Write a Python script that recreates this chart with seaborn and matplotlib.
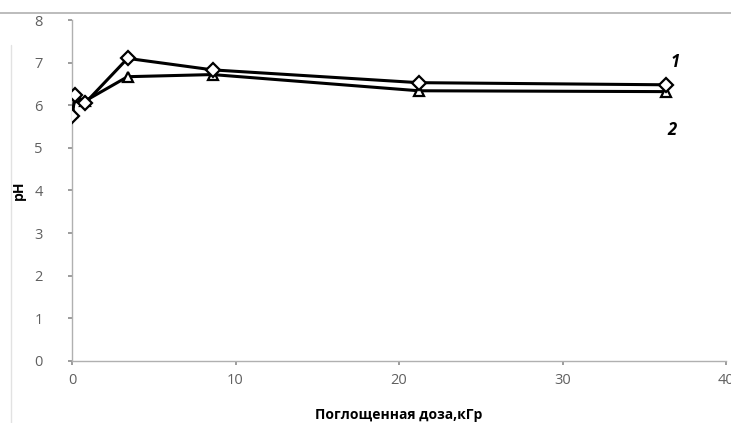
import matplotlib
matplotlib.use("Agg")
import matplotlib.pyplot as plt
import seaborn as sns
import pandas as pd

dose_1 = [0.0, 0.2, 0.8, 3.4, 8.6, 21.2, 36.3]
ph_1 = [5.75, 6.25, 6.05, 7.1, 6.83, 6.53, 6.48]
dose_2 = [0.0, 0.2, 0.8, 3.4, 8.6, 21.2, 36.3]
ph_2 = [5.85, 6.2, 6.1, 6.67, 6.72, 6.34, 6.32]
x_ticks = [0, 10, 20, 30, 40]
y_ticks = [0, 1, 2, 3, 4, 5, 6, 7, 8]
series_labels = ["1", "2"]

sns.set_theme(style="white")
plt.rcParams["font.family"] = ["Open Sans", "DejaVu Sans"]

fig = plt.figure(figsize=(7.31, 4.23), dpi=100)
ax = fig.add_axes([0.0985, 0.1466, 0.8947, 0.8061])

df1 = pd.DataFrame({"dose": dose_1, "ph": ph_1})
df2 = pd.DataFrame({"dose": dose_2, "ph": ph_2})

sns.lineplot(data=df1, x="dose", y="ph", ax=ax, sort=False, color="black",
             linewidth=2.2, marker="D", markersize=7, markerfacecolor="white",
             markeredgecolor="black", markeredgewidth=1.6, zorder=3)
sns.lineplot(data=df2, x="dose", y="ph", ax=ax, sort=False, color="black",
             linewidth=2.2, marker="^", markersize=7, markerfacecolor="white",
             markeredgecolor="black", markeredgewidth=1.6, zorder=2)

ax.set_xlim(0, 40)
ax.set_ylim(0, 8)
ax.set_xticks(x_ticks)
ax.set_yticks(y_ticks)
ax.tick_params(axis="both", colors="#909090", labelsize=10.5, length=3,
               direction="out", left=True, bottom=True, labelcolor="#606060")
ax.yaxis.set_tick_params(pad=18)
ax.xaxis.set_tick_params(pad=6)
for s in ["top", "right"]:
    ax.spines[s].set_visible(False)
for s in ["left", "bottom"]:
    ax.spines[s].set_color("#b0b0b0")
    ax.spines[s].set_linewidth(1.0)

ax.set_xlabel("Поглощенная доза,кГр", fontsize=10, fontweight="bold",
              color="black", labelpad=14)
ax.set_ylabel("pH", fontsize=10, fontweight="bold", color="black", labelpad=6)

ax.text(36.6, 7.02, series_labels[0], fontsize=12, fontweight="bold",
        style="italic", color="black", ha="left", va="center")
ax.text(36.4, 5.42, series_labels[1], fontsize=12, fontweight="bold",
        style="italic", color="black", ha="left", va="center")

fig.add_artist(plt.Line2D([0.0, 1.0], [1 - 13 / 423, 1 - 13 / 423],
                          color="#b0b0b0", linewidth=1.2))
fig.add_artist(plt.Line2D([11 / 731, 11 / 731], [0.0, 1 - 45 / 423],
                          color="#e2e2e2", linewidth=1.0, zorder=0))

fig.savefig("out.png", dpi=100)
